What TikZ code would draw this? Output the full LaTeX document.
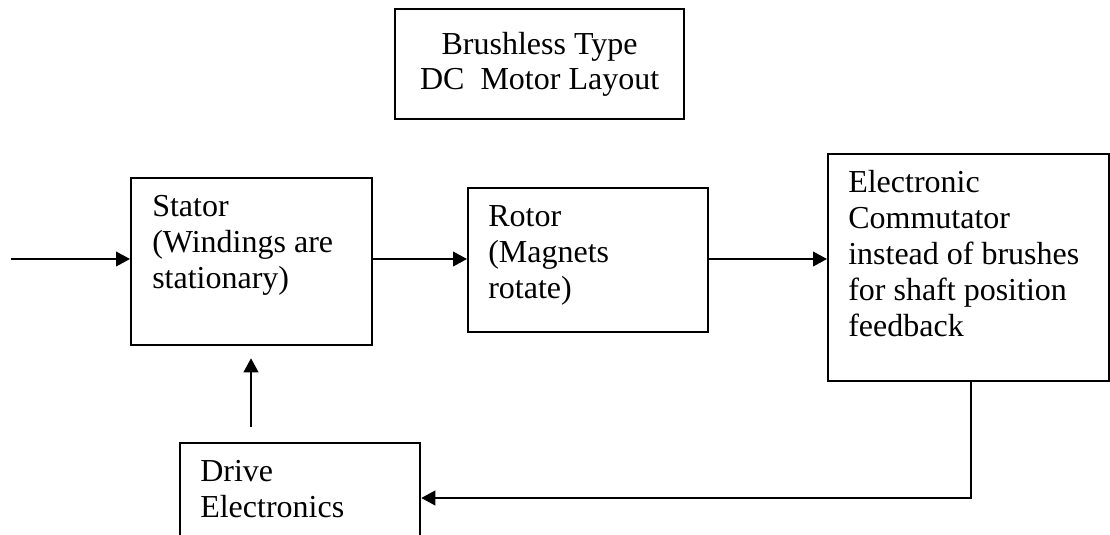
\documentclass[tikz,border=0pt]{standalone}
\usepackage{fontspec}
\setmainfont{Liberation Serif}
\usetikzlibrary{arrows.meta}
\begin{document}
\begin{tikzpicture}[x=0.75pt,y=-0.75pt,
  box/.style={draw, line width=1.7pt, inner sep=0pt, anchor=north west},
  txt/.style={inner sep=0pt, anchor=north west, align=left, font=\fontsize{24pt}{27pt}\selectfont},
  arr/.style={line width=1.4pt, -{Triangle[length=10.5pt,width=11pt]}},
  ln/.style={line width=1.4pt}]
\useasboundingbox (0,0) rectangle (1110,535);
% boxes
\node[box, minimum width={289*0.75pt}, minimum height={110*0.75pt}, align=center,
      font=\fontsize{24pt}{26.5pt}\selectfont] (title) at (394,8) {Brushless Type\\DC\ \ Motor Layout};
\node[box, minimum width={241*0.75pt}, minimum height={167*0.75pt}] (stator) at (130,177) {};
\node[box, minimum width={240*0.75pt}, minimum height={144*0.75pt}] (rotor) at (467,187) {};
\node[box, minimum width={281*0.75pt}, minimum height={227*0.75pt}] (elec) at (827,153) {};
\node[box, minimum width={240*0.75pt}, minimum height={120*0.75pt}] (drive) at (179,442) {};
% texts
\node[txt] (statort) at (152,195.5) {Stator\\(Windings are\\stationary)};
\node[txt] (rotort) at (488,205.5) {Rotor\\(Magnets\\rotate)};
\node[txt] (elect) at (848,170) {Electronic\\Commutator\\instead of brushes\\for shaft position\\feedback};
\node[txt] (drivet) at (200,460) {Drive\\Electronics};
% connectors
\coordinate (in) at (11,259);
\coordinate (up) at (251,427);
\coordinate (fb) at (971,498);
\draw[arr] (in) -- (stator.west |- in);
\draw[arr] (stator.east |- in) -- (rotor.west |- in);
\draw[arr] (rotor.east |- in) -- (elec.west |- in);
\draw[arr, shorten <=11.25pt, shorten >=9pt] (drive.north -| up) -- (up |- stator.south);
\draw[arr] (elec.south -| fb) -- (fb) -- (drive.east |- fb);
\end{tikzpicture}
\end{document}
